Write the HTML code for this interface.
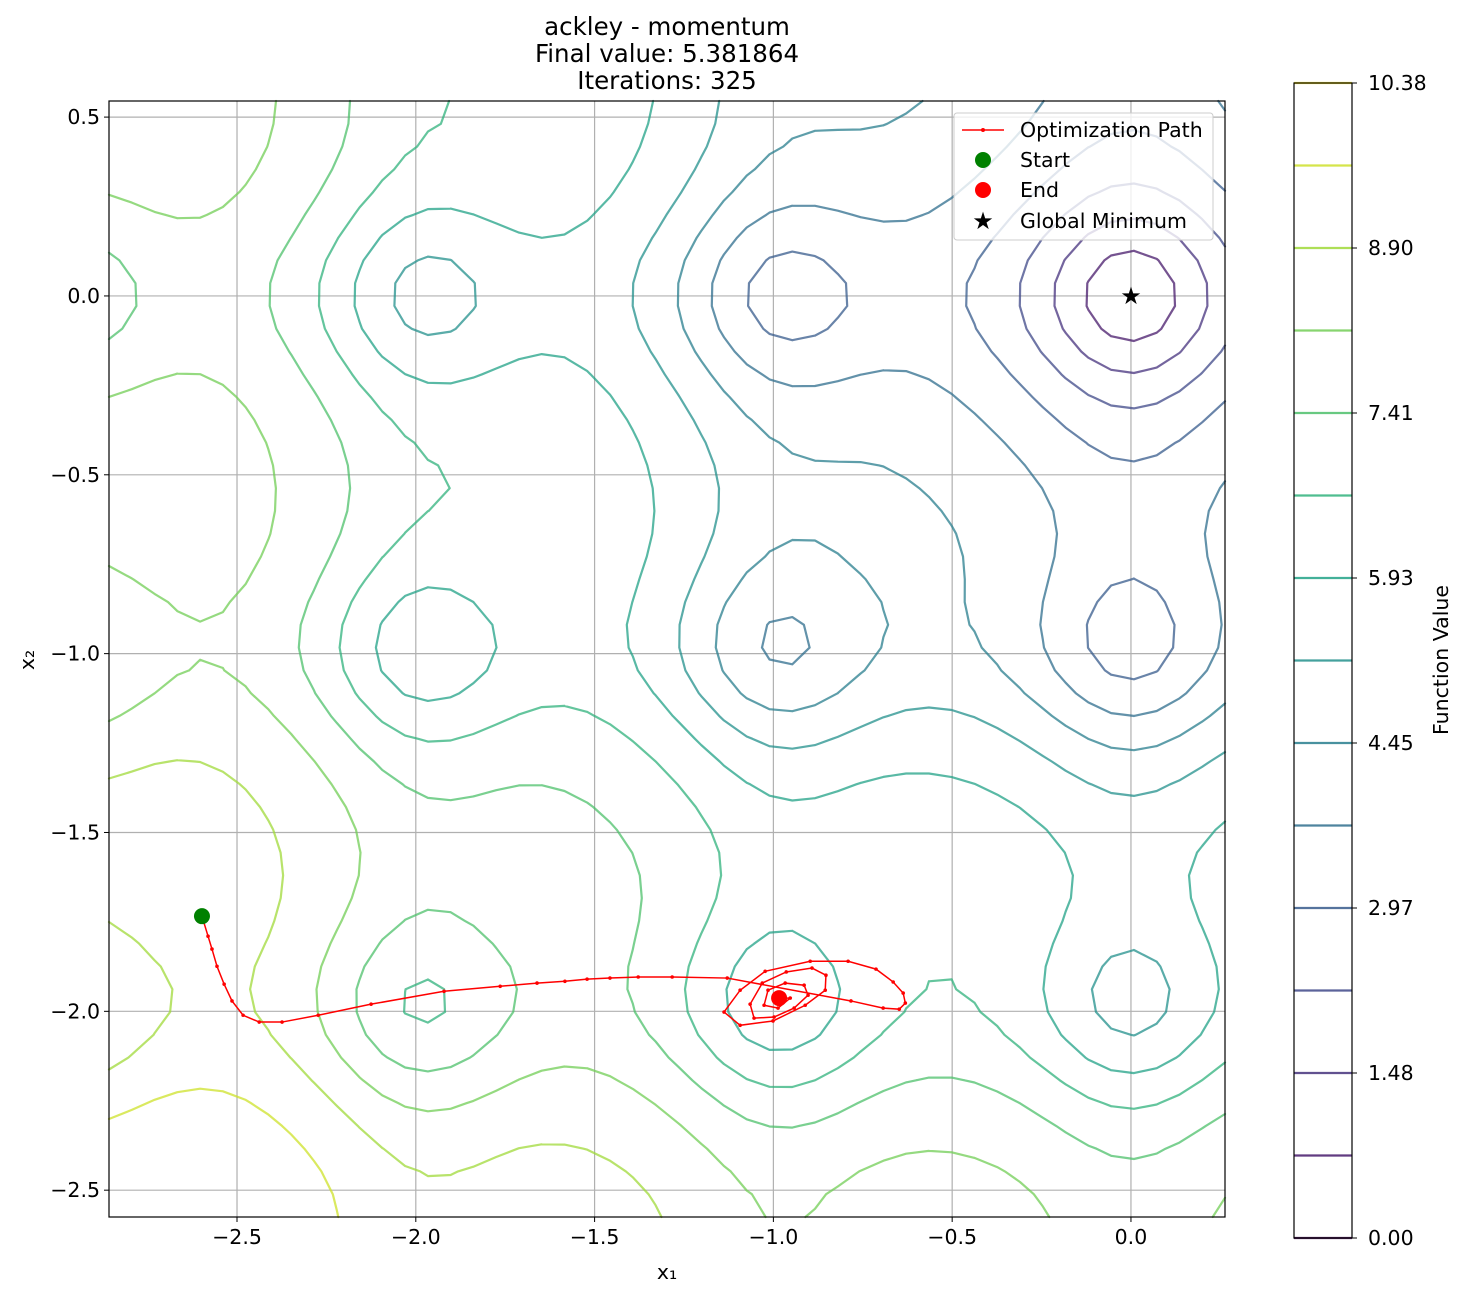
<!DOCTYPE html>
<html><head><meta charset="utf-8"><style>
body{margin:0;background:#fff}
svg text{font-family:"DejaVu Sans","Liberation Sans",sans-serif;fill:#000}
</style></head><body>
<svg id="chart" width="1469" height="1296" viewBox="0 0 1469 1296" xmlns="http://www.w3.org/2000/svg">
<g id="title" font-size="24.5" text-anchor="middle">
<text x="667" y="35">ackley - momentum</text>
<text x="667" y="62">Final value: 5.381864</text>
<text x="667" y="89">Iterations: 325</text>
</g>
<g id="grid"></g>
<g id="contours"></g>
<g id="path"></g>
<rect x="109" y="101" width="1116" height="1116" fill="none" stroke="#000" stroke-width="1.2"/>
<g id="xticks" font-size="20.5" text-anchor="middle"></g>
<g id="yticks" font-size="20.5" text-anchor="end"></g>
<text x="667" y="1279" font-size="20.5" text-anchor="middle">x₁</text>
<text transform="translate(34,660) rotate(-90)" font-size="20.5" text-anchor="middle">x₂</text>
<g id="legend">
<rect x="954" y="113" width="259" height="127" rx="3" fill="#fff" fill-opacity="0.8" stroke="#ccc"/>
<g><line x1="962" y1="130" x2="1004" y2="130" stroke="red" stroke-width="1.5"/><circle cx="983" cy="130" r="2" fill="red"/><text x="1020" y="137" font-size="20.5">Optimization Path</text></g>
<g><circle cx="983" cy="160" r="8" fill="green"/><text x="1020" y="167" font-size="20.5">Start</text></g>
<g><circle cx="983" cy="190" r="8" fill="red"/><text x="1020" y="197" font-size="20.5">End</text></g>
<g><text x="983" y="229" font-size="24" text-anchor="middle">★</text><text x="1020" y="228" font-size="20.5">Global Minimum</text></g>
</g>
<g id="colorbar"></g>
<text transform="translate(1448,660) rotate(-90)" font-size="20.5" text-anchor="middle">Function Value</text>
</svg>
<script>
const levelCount = 14;
const levelMax = 10.38;
const xTicks = [-2.5, -2.0, -1.5, -1.0, -0.5, 0.0];
const yTicks = [0.5, 0.0, -0.5, -1.0, -1.5, -2.0, -2.5];
const cbTicks = ["0.00","1.48","2.97","4.45","5.93","7.41","8.90","10.38"];
const pathX = [-2.598,-2.581,-2.570,-2.556,-2.536,-2.514,-2.483,-2.438,-2.374,-2.273,-2.125,-1.921,-1.764,-1.661,-1.583,-1.521,-1.457,-1.378,-1.283,-1.129,-0.783,-0.693,-0.648,-0.631,-0.637,-0.665,-0.713,-0.791,-0.897,-1.023,-1.093,-1.138,-1.093,-1.001,-0.911,-0.855,-0.853,-0.892,-0.964,-1.031,-1.065,-1.054,-0.998,-0.942,-0.903,-0.914,-0.967,-1.015,-1.026,-0.987,-0.953,-0.984];
const pathY = [-1.734,-1.790,-1.826,-1.874,-1.924,-1.971,-2.011,-2.030,-2.030,-2.011,-1.980,-1.944,-1.930,-1.921,-1.916,-1.910,-1.907,-1.904,-1.904,-1.907,-1.971,-1.991,-1.994,-1.977,-1.949,-1.918,-1.882,-1.860,-1.860,-1.888,-1.941,-2.002,-2.039,-2.027,-1.983,-1.941,-1.899,-1.879,-1.890,-1.921,-1.980,-2.019,-2.016,-1.991,-1.955,-1.927,-1.921,-1.941,-1.983,-1.991,-1.963,-1.963];
const globalMin = [0, 0];

const NS="http://www.w3.org/2000/svg";
const X0=-2.858,X1=0.263,Y0=-2.575,Y1=0.545;
const L=109,R=1225,T=101,B=1217;
const sx=v=>L+(v-X0)/(X1-X0)*(R-L);
const sy=v=>B-(v-Y0)/(Y1-Y0)*(B-T);
function mk(tag,attrs,parent){const e=document.createElementNS(NS,tag);for(const k in attrs)e.setAttribute(k,attrs[k]);parent.appendChild(e);return e;}
const vir=[[68,1,84],[72,40,120],[62,74,137],[49,104,142],[38,130,142],[31,158,137],[53,183,121],[109,205,89],[180,222,44],[253,231,37]];
function viridis(t){t=Math.max(0,Math.min(1,t))*(vir.length-1);const i=Math.min(Math.floor(t),vir.length-2),f=t-i;const c=vir[i].map((v,k)=>Math.round(v+(vir[i+1][k]-v)*f));return `rgb(${c[0]},${c[1]},${c[2]})`;}
function ackley(x,y){return -20*Math.exp(-0.2*Math.sqrt(0.5*(x*x+y*y)))-Math.exp(0.5*(Math.cos(2*Math.PI*x)+Math.cos(2*Math.PI*y)))+Math.E+20;}

const grid=document.getElementById('grid');
xTicks.forEach(v=>{const l=mk('line',{x1:sx(v),x2:sx(v),y1:T,y2:B,stroke:'#b0b0b0','stroke-width':1.2},grid);

});
yTicks.forEach(v=>{const l=mk('line',{x1:L,x2:R,y1:sy(v),y2:sy(v),stroke:'#b0b0b0','stroke-width':1.2},grid);

});
const xt=document.getElementById('xticks');
xTicks.forEach(v=>{mk('line',{x1:sx(v),x2:sx(v),y1:B,y2:B+5,stroke:'#000'},xt);const t=mk('text',{x:sx(v),y:B+27},xt);t.textContent=v.toFixed(1).replace('-','−');

});
const yt=document.getElementById('yticks');
yTicks.forEach(v=>{mk('line',{x1:L-5,x2:L,y1:sy(v),y2:sy(v),stroke:'#000'},yt);const t=mk('text',{x:L-9,y:sy(v)+7},yt);t.textContent=v.toFixed(1).replace('-','−');

});

const N=50,gx=[],gy=[],Z=[];
for(let i=0;i<N;i++){gx.push(X0+(X1-X0)*i/(N-1));gy.push(Y0+(Y1-Y0)*i/(N-1));}
for(let j=0;j<N;j++){Z.push([]);for(let i=0;i<N;i++)Z[j].push(ackley(gx[i],gy[j]));}
const cg=document.getElementById('contours');
for(let li=1;li<=levelCount;li++){
 const lv=li*levelMax/levelCount;let d='';
 for(let j=0;j<N-1;j++)for(let i=0;i<N-1;i++){
  const c=[[gx[i],gy[j],Z[j][i]],[gx[i+1],gy[j],Z[j][i+1]],[gx[i+1],gy[j+1],Z[j+1][i+1]],[gx[i],gy[j+1],Z[j+1][i]]];
  const pts=[];
  for(let e=0;e<4;e++){const a=c[e],b=c[(e+1)%4];if((a[2]<lv)!==(b[2]<lv)){const f=(lv-a[2])/(b[2]-a[2]);pts.push([a[0]+(b[0]-a[0])*f,a[1]+(b[1]-a[1])*f]);}}
  for(let k=0;k+1<pts.length;k+=2)d+=`M${sx(pts[k][0]).toFixed(1)},${sy(pts[k][1]).toFixed(1)}L${sx(pts[k+1][0]).toFixed(1)},${sy(pts[k+1][1]).toFixed(1)}`;
 }
 if(d){const p=mk('path',{d:d,fill:'none',stroke:viridis(li/levelCount),'stroke-opacity':0.75,'stroke-width':2.2,'stroke-linecap':'round'},cg);
 
 }
}

const pg=document.getElementById('path');
const pl=mk('polyline',{points:pathX.map((x,i)=>sx(x)+','+sy(pathY[i])).join(' '),fill:'none',stroke:'red','stroke-width':1.5},pg);


pathX.forEach((x,i)=>{const c=mk('circle',{cx:sx(x),cy:sy(pathY[i]),r:1.8,fill:'red'},pg);

});
const st=mk('circle',{cx:sx(pathX[0]),cy:sy(pathY[0]),r:8,fill:'green'},pg);


const en=mk('circle',{cx:sx(pathX[pathX.length-1]),cy:sy(pathY[pathY.length-1]),r:8,fill:'red'},pg);


const gm=mk('text',{x:sx(globalMin[0]),y:sy(globalMin[1])+8,'font-size':24,'text-anchor':'middle'},pg);gm.textContent='★';



const cb=document.getElementById('colorbar');
const CT=83,CB=1238,CL=1294,CR=1352;
for(let li=0;li<=levelCount;li++){const y=CB-li/levelCount*(CB-CT);
 const l=mk('line',{x1:CL,x2:CR,y1:y,y2:y,stroke:viridis(li/levelCount),'stroke-opacity':0.85,'stroke-width':2.2},cb);
 
 }
mk('rect',{x:CL,y:CT,width:CR-CL,height:CB-CT,fill:'none',stroke:'#000','stroke-width':1.2},cb);
cbTicks.forEach((s,k)=>{const y=CB-(2*k)/levelCount*(CB-CT);mk('line',{x1:CR,x2:CR+5,y1:y,y2:y,stroke:'#000'},cb);
 const t=mk('text',{x:CR+16,y:y+7,'font-size':20.5},cb);t.textContent=s;
 
 });
</script>
</body></html>
